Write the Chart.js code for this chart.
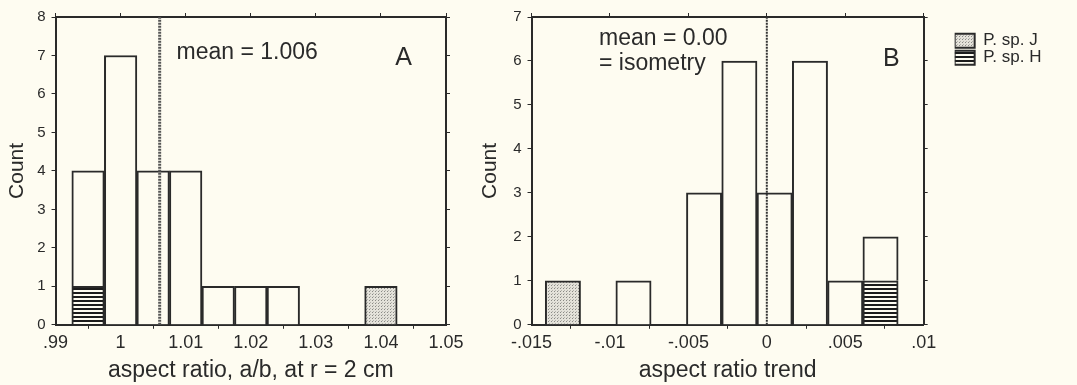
<!DOCTYPE html>
<html>
<head>
<meta charset="utf-8">
<script src="https://cdn.jsdelivr.net/npm/chart.js@4"></script>
<style>
  body { margin: 0; background: #fefcf1; }
  .box { position: absolute; top: 0; height: 385px; }
  #boxA { left: 0; width: 470px; }
  #boxB { left: 470px; width: 607px; }
</style>
</head>
<body>
<div class="box" id="boxA"><canvas id="chartA"></canvas></div>
<div class="box" id="boxB"><canvas id="chartB"></canvas></div>
<script>
// panel A: aspect ratio at r = 2 cm (bin centres, bin width .005)
const binsA = [0.995, 1.0, 1.005, 1.01, 1.015, 1.02, 1.025, 1.03, 1.035, 1.04];
const otherA = [3, 7, 4, 4, 1, 1, 1, null, null, null];
const spJA = [null, null, null, null, null, null, null, null, null, 1];
const spHA = [1, null, null, null, null, null, null, null, null, null];
const meanA = 1.006;
const ticksA = [0.99, 1, 1.01, 1.02, 1.03, 1.04, 1.05];
const tickLabelsA = ['.99', '1', '1.01', '1.02', '1.03', '1.04', '1.05'];

// panel B: aspect ratio trend (bin width .00225)
const binsB = [-0.013, -0.01075, -0.0085, -0.00625, -0.004, -0.00175, 0.0005, 0.00275, 0.005, 0.00725];
const otherB = [null, null, 1, null, 3, 6, 3, 6, 1, 1];
const spJB = [1, null, null, null, null, null, null, null, null, null];
const spHB = [null, null, null, null, null, null, null, null, null, 1];
const meanB = 0.0;
const ticksB = [-0.015, -0.01, -0.005, 0, 0.005, 0.01];
const tickLabelsB = ['-.015', '-.01', '-.005', '0', '.005', '.01'];

const ink = '#2a2a2a';
const paper = '#fefcf1';
const font = 'Liberation Sans, Arial, sans-serif';

// fill patterns
function hatch() {
  const c = document.createElement('canvas');
  c.width = 4; c.height = 4;
  const g = c.getContext('2d');
  g.fillStyle = paper; g.fillRect(0, 0, 4, 4);
  g.fillStyle = '#1c1c1c'; g.fillRect(0, 0, 4, 2);
  return g.createPattern(c, 'repeat');
}
function stipple() {
  const c = document.createElement('canvas');
  c.width = 3; c.height = 3;
  const g = c.getContext('2d');
  g.fillStyle = '#e4e2da'; g.fillRect(0, 0, 3, 3);
  g.fillStyle = '#8a8a86'; g.fillRect(0, 0, 1, 1);
  g.fillStyle = '#b4b3ad'; g.fillRect(1, 2, 1, 1);
  return g.createPattern(c, 'repeat');
}

const pts = (xs, ys) => xs.map((x, i) => ({ x: x, y: ys[i] }));

function barSet(label, xs, ys, fill) {
  return {
    type: 'bar', label: label, data: pts(xs, ys),
    backgroundColor: fill, borderColor: ink, borderWidth: 2,
    barPercentage: 1, categoryPercentage: 1, grouped: false
  };
}

function meanSet(m, top, w, dash, color) {
  return {
    type: 'line', label: 'mean', data: [{ x: m, y: 0 }, { x: m, y: top }],
    borderColor: color, borderWidth: w, borderDash: dash,
    pointRadius: 0, stack: 'mean', order: -1
  };
}

function axes(ticks, labels, ymax, title, countPad, rightWidth) {
  const grid = { drawOnChartArea: false, drawTicks: true, tickLength: 4, color: ink };
  const border = { color: ink, width: 2 };
  return {
    x: {
      type: 'linear', offset: false, min: ticks[0], max: ticks[ticks.length - 1],
      afterBuildTicks: s => { s.ticks = ticks.map(v => ({ value: v })); },
      ticks: { callback: (v, i) => labels[i], color: ink, font: { family: font, size: 18 }, maxRotation: 0, padding: 3 },
      grid: grid, border: border,
      title: { display: true, text: title, color: ink, font: { family: font, size: 23 }, padding: { top: 0, bottom: 1 } }
    },
    x2: {
      type: 'linear', position: 'top', offset: false, min: ticks[0], max: ticks[ticks.length - 1],
      afterBuildTicks: s => { s.ticks = ticks.map(v => ({ value: v })); },
      ticks: { display: false }, grid: grid, border: border
    },
    y: {
      stacked: true, min: 0, max: ymax,
      ticks: { stepSize: 1, color: ink, font: { family: font, size: 15 }, padding: 6 },
      grid: grid, border: border,
      title: { display: true, text: 'Count', color: ink, font: { family: font, size: 21 }, padding: { top: 0, bottom: countPad } }
    },
    y2: {
      position: 'right', min: 0, max: ymax,
      afterFit: s => { if (rightWidth) s.width = rightWidth; },
      ticks: { display: false, stepSize: 1 }, grid: grid, border: border
    }
  };
}

// text notes placed in data coordinates
function notes(lines) {
  return {
    id: 'notes',
    afterDatasetsDraw(chart) {
      const ctx = chart.ctx, sx = chart.scales.x, sy = chart.scales.y;
      ctx.save();
      ctx.fillStyle = ink;
      ctx.textBaseline = 'middle';
      lines.forEach(n => {
        ctx.font = n.size + 'px ' + font;
        ctx.fillText(n.text, sx.getPixelForValue(n.x), sy.getPixelForValue(n.y));
      });
      ctx.restore();
    }
  };
}

new Chart(document.getElementById('chartA'), {
  data: {
    datasets: [
      barSet('P. sp. H', binsA, spHA, hatch()),
      barSet('P. sp. J', binsA, spJA, stipple()),
      barSet('other', binsA, otherA, paper),
      meanSet(meanA, 8, 3, [2, 1], '#555')
    ]
  },
  options: {
    responsive: true, maintainAspectRatio: false, animation: false,
    layout: { padding: { left: 5, right: 20, top: 13, bottom: 0 } },
    scales: axes(ticksA, tickLabelsA, 8, 'aspect ratio, a/b, at r = 2 cm', 1, 0),
    plugins: { legend: { display: false }, tooltip: { enabled: false } }
  },
  plugins: [notes([
    { text: 'mean = 1.006', x: 1.0086, y: 7.07, size: 23 },
    { text: 'A', x: 1.0422, y: 6.92, size: 25 }
  ])]
});

new Chart(document.getElementById('chartB'), {
  data: {
    datasets: [
      barSet('P. sp. J', binsB, spJB, stipple()),
      barSet('P. sp. H', binsB, spHB, hatch()),
      barSet('other', binsB, otherB, paper),
      meanSet(meanB, 7, 2, [2, 1], '#333')
    ]
  },
  options: {
    responsive: true, maintainAspectRatio: false, animation: false,
    layout: { padding: { left: 8, right: 27, top: 13, bottom: 0 } },
    scales: axes(ticksB, tickLabelsB, 7, 'aspect ratio trend', 4, 31),
    plugins: {
      legend: {
        position: 'right', align: 'start',
        title: { display: true, text: ' ', font: { size: 1 }, padding: 9 },
        labels: {
          filter: item => item.text.startsWith('P.'),
          sort: (a, b) => (a.text < b.text ? 1 : -1),
          boxWidth: 20, boxHeight: 14, padding: 0,
          color: ink, font: { family: font, size: 17 }
        }
      },
      tooltip: { enabled: false }
    }
  },
  plugins: [notes([
    { text: 'mean = 0.00', x: -0.0107, y: 6.5, size: 23 },
    { text: '= isometry', x: -0.0107, y: 5.93, size: 23 },
    { text: 'B', x: 0.0074, y: 6.05, size: 25 }
  ])]
});
</script>
</body>
</html>
